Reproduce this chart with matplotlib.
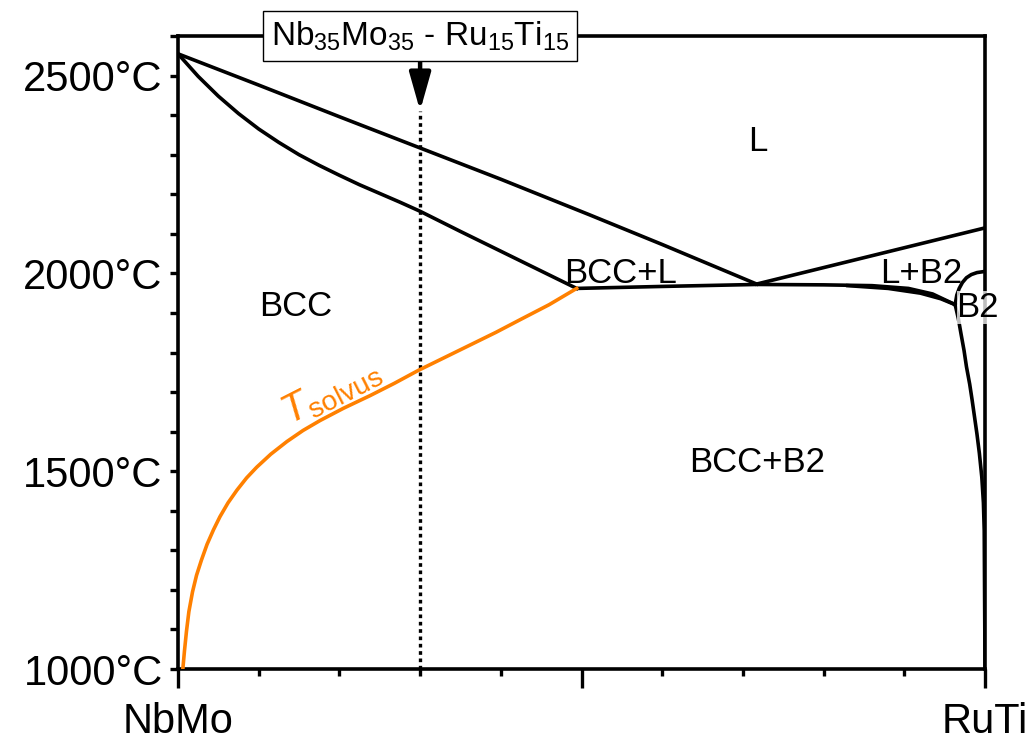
import matplotlib
matplotlib.use("Agg")
import matplotlib.pyplot as plt
from matplotlib.ticker import MultipleLocator, FixedLocator

plt.rcParams["font.family"] = ["Liberation Sans", "DejaVu Sans"]
plt.rcParams["mathtext.fontset"] = "custom"
plt.rcParams["mathtext.rm"] = "Liberation Sans"
plt.rcParams["mathtext.it"] = "Liberation Sans:italic"
plt.rcParams["mathtext.default"] = "regular"

# composition axis: 0 = NbMo, 1 = RuTi ; temperatures in °C
liq_x = [0.0, 0.1, 0.2, 0.3, 0.4, 0.51, 0.6, 0.717]
liq_t = [2555, 2476, 2396, 2317, 2238, 2148, 2073, 1973]

sol_x = [0.0, 0.025, 0.05, 0.075, 0.1, 0.125, 0.15, 0.175, 0.2, 0.225,
         0.25, 0.275, 0.3, 0.35, 0.4, 0.45, 0.494]
sol_t = [2555, 2498, 2448, 2404, 2365, 2331, 2300, 2273, 2248, 2224,
         2202, 2180, 2157, 2106, 2056, 2006, 1962]

solvus_x = [0.006, 0.008, 0.0105, 0.0135, 0.018, 0.023, 0.029, 0.036, 0.044,
            0.052, 0.062, 0.073, 0.085, 0.0975, 0.115, 0.135, 0.155, 0.176,
            0.205, 0.238, 0.268, 0.298, 0.33, 0.362, 0.394, 0.424, 0.46, 0.494]
solvus_t = [1000, 1045, 1095, 1145, 1195, 1237, 1275, 1315, 1352,
            1385, 1420, 1452, 1483, 1510, 1543, 1575, 1603, 1628,
            1659, 1691, 1722, 1755, 1787, 1819, 1851, 1883, 1921, 1962]

flat_x = [0.494, 0.6, 0.717, 0.8, 0.86, 0.905, 0.935, 0.963]
flat_t = [1962, 1967, 1972, 1971, 1969, 1962, 1948, 1921]

flat2_x = [0.83, 0.88, 0.92, 0.945, 0.963]
flat2_t = [1969, 1962, 1950, 1936, 1921]

lb2_x = [0.717, 1.0]
lb2_t = [1973, 2115]

b2top_x = [0.963, 0.965, 0.968, 0.972, 0.977, 0.983, 0.990, 1.0]
b2top_t = [1921, 1945, 1962, 1977, 1989, 1997, 2002, 2005]

b2sol_x = [0.963, 0.967, 0.970, 0.974, 0.977, 0.981, 0.984, 0.987, 0.990,
           0.993, 0.996, 0.998, 0.999, 1.0]
b2sol_t = [1921, 1885, 1850, 1805, 1764, 1720, 1680, 1637, 1594,
           1545, 1485, 1420, 1350, 1000]

alloy_x = 0.3
alloy_top = 2411
alloy_label = r"Nb$_{35}$Mo$_{35}$ - Ru$_{15}$Ti$_{15}$"

y_ticks = [1000, 1500, 2000, 2500]
y_labels = ["1000°C", "1500°C", "2000°C", "2500°C"]
x_ticks = [0.0, 0.5, 1.0]
x_labels = ["NbMo", "", "RuTi"]

phase_labels = [
    ("L", 0.718, 2334),
    ("BCC", 0.146, 1917),
    ("BCC+L", 0.548, 1999),
    ("L+B2", 0.921, 1999),
    ("BCC+B2", 0.718, 1522),
]

orange = "#FF8000"
lw = 2.6

fig = plt.figure(figsize=(10.36, 7.44), dpi=100)
ax = fig.add_axes([0.1718, 0.1008, 0.7790, 0.8508])

ax.plot(liq_x, liq_t, color="black", lw=lw)
ax.plot(sol_x, sol_t, color="black", lw=lw)
ax.plot(flat_x, flat_t, color="black", lw=lw)
ax.plot(flat2_x, flat2_t, color="black", lw=lw)
ax.plot(lb2_x, lb2_t, color="black", lw=lw)
ax.plot(b2top_x, b2top_t, color="black", lw=lw)
ax.plot(b2sol_x, b2sol_t, color="black", lw=lw)
ax.plot(solvus_x, solvus_t, color=orange, lw=lw, zorder=3)

# alloy composition line
ax.plot([alloy_x, alloy_x], [1000, alloy_top], color="black", lw=2.4,
        linestyle=(0, (1.1, 1.1)))
ax.annotate(alloy_label, xy=(alloy_x, alloy_top), xytext=(alloy_x, 2600),
            textcoords="data", ha="center", va="center", fontsize=24,
            bbox=dict(boxstyle="square,pad=0.24", fc="white", ec="black", lw=1),
            arrowprops=dict(arrowstyle="-|>,head_length=2.3,head_width=0.65",
                            mutation_scale=10, lw=3.2, color="black",
                            shrinkA=0, shrinkB=0),
            annotation_clip=False, zorder=6)

for txt, x, t in phase_labels:
    ax.text(x, t, txt, fontsize=25, ha="center", va="center")
ax.text(0.991, 1913, "B2", fontsize=25, ha="center", va="center", zorder=5,
        bbox=dict(boxstyle="square,pad=0", fc="white", ec="none", alpha=0.75))

ax.text(0.19, 1700, r"$\mathit{T}_{\mathrm{solvus}}$", fontsize=29, color=orange,
        ha="center", va="center", rotation=27, rotation_mode="anchor")

ax.set_xlim(0, 1)
ax.set_ylim(1000, 2600)

ax.yaxis.set_major_locator(FixedLocator(y_ticks))
ax.set_yticklabels(y_labels)
ax.yaxis.set_minor_locator(MultipleLocator(100))
ax.xaxis.set_major_locator(FixedLocator(x_ticks))
ax.set_xticklabels(x_labels)
ax.xaxis.set_minor_locator(MultipleLocator(0.1))

ax.tick_params(axis="both", which="both", direction="out", width=2.4,
               labelsize=30, top=False, right=False)
ax.tick_params(axis="y", which="both", length=6, pad=5)
ax.tick_params(axis="x", which="major", length=14, pad=10)
ax.tick_params(axis="x", which="minor", length=5)

for s in ax.spines.values():
    s.set_linewidth(2.6)

fig.savefig("out.png", dpi=100)
plt.close()
